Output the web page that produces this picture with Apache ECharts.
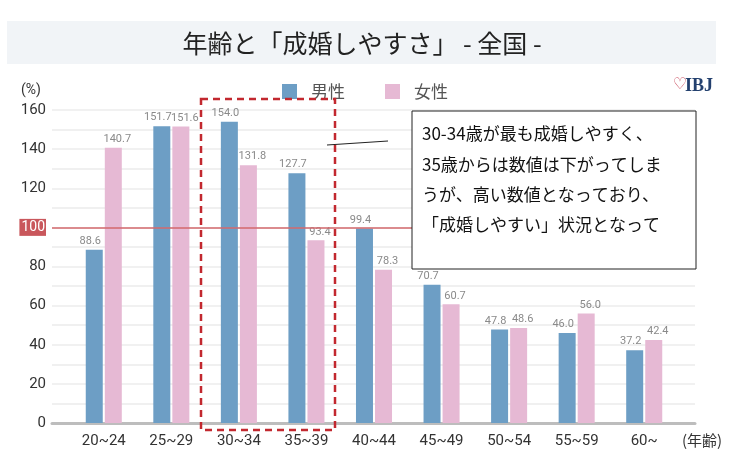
<!DOCTYPE html>
<html><head><meta charset="utf-8">
<script src="https://cdn.jsdelivr.net/npm/echarts@6/dist/echarts.min.js"></script>
<style>html,body{margin:0;padding:0;background:#fff}#c{width:737px;height:462px}</style>
</head><body><div id="c"></div>
<script>
const categories = ['20~24','25~29','30~34','35~39','40~44','45~49','50~54','55~59','60~'];
const male = [88.6,151.7,154.0,127.7,99.4,70.7,47.8,46.0,37.2];
const female = [140.7,151.6,131.8,93.4,78.3,60.7,48.6,56.0,42.4];
const yTicks = [0,20,40,60,80,100,120,140,160];
const noteLines = ['30-34歳が最も成婚しやすく、','35歳からは数値は下がってしま','うが、高い数値となっており、','「成婚しやすい」状況となって'];

const JP = '"Noto Sans CJK JP","Noto Sans",sans-serif';
const NUM = 'Roboto,"Noto Sans",sans-serif';
const chart = echarts.init(document.getElementById('c'));
const lbl = (dx) => ({show:true, position:'top', distance:3, offset:[dx,0], color:'#8a8a8a', fontSize:11, fontFamily:NUM,
  formatter:p=>Number(p.value).toFixed(1)});
chart.setOption({
  animation:false,
  backgroundColor:'#fff',
  grid:[{left:52,right:42,top:110,bottom:39},{left:70,right:59,top:110,bottom:39}],
  legend:{top:78,left:277,itemWidth:15,itemHeight:15,itemGap:40,icon:'rect',
    textStyle:{fontSize:17,color:'#555',fontFamily:JP,padding:[0,0,0,9]},data:['男性','女性']},
  xAxis:[
    {gridIndex:0,type:'category',data:categories,axisLine:{lineStyle:{color:'#bdbdbd',width:3}},axisTick:{show:false},axisLabel:{show:false}},
    {gridIndex:1,type:'category',data:categories,axisLine:{show:false},axisTick:{show:false},
     axisLabel:{color:'#333',fontSize:15,margin:11,fontFamily:NUM}}
  ],
  yAxis:[
    {gridIndex:0,type:'value',min:yTicks[0],max:yTicks[yTicks.length-1],interval:20,
     axisLine:{show:false},axisTick:{show:false},
     splitLine:{lineStyle:{color:'#ececec',width:1.5}},
     minorTick:{show:false,splitNumber:2},minorSplitLine:{show:true,lineStyle:{color:'#ececec',width:1.5}},
     axisLabel:{margin:6,color:'#333',fontSize:15,fontFamily:NUM,
       formatter:v=>v===100?'{r|100}':String(v),
       rich:{r:{backgroundColor:'#c9575c',color:'#fff',fontSize:14,padding:[2,1,1,2],fontFamily:NUM}}}},
    {gridIndex:1,type:'value',min:yTicks[0],max:yTicks[yTicks.length-1],interval:20,show:false,splitLine:{show:false}}
  ],
  series:[
    {type:'line',xAxisIndex:0,yAxisIndex:0,data:categories.map(()=>'-'),silent:true,
     markLine:{symbol:'none',silent:true,label:{show:false},lineStyle:{color:'#d3686c',width:1.5,type:'solid'},data:[{yAxis:100}]}},
    {name:'男性',type:'bar',xAxisIndex:1,yAxisIndex:1,data:male,barWidth:17,barGap:'12%',itemStyle:{color:'#6d9ec5'},label:lbl(-4)},
    {name:'女性',type:'bar',xAxisIndex:1,yAxisIndex:1,data:female,barWidth:17,itemStyle:{color:'#e6b9d4'},label:lbl(4)}
  ],
  graphic:[
    {type:'rect',shape:{x:7,y:21,width:709,height:43},style:{fill:'#f1f4f7'},z:-1},
    {type:'text',x:362,y:43,style:{text:'年齢と「成婚しやすさ」 - 全国 -',font:'25px '+JP,fill:'#222',align:'center',verticalAlign:'middle'}},
    {type:'text',x:31,y:90,style:{text:'(%)',font:'14px '+NUM,fill:'#333',align:'center',verticalAlign:'middle'}},
    {type:'text',x:702,y:440,style:{text:'(年齢)',font:'15px '+JP,fill:'#333',align:'center',verticalAlign:'middle'}},
    {type:'text',x:699,y:86,style:{text:'IBJ',font:'bold 18px "Liberation Serif",serif',fill:'#23406e',align:'center',verticalAlign:'middle'}},
    {type:'text',x:680,y:85,style:{text:'♡',font:'16px "DejaVu Sans",sans-serif',fill:'#c8485a',align:'center',verticalAlign:'middle'}},
    {type:'rect',shape:{x:201,y:99,width:134,height:331},style:{fill:'none',stroke:'#c2282f',lineWidth:2.5,lineDash:[7,5]},z:50},
    {type:'line',shape:{x1:327,y1:145,x2:388,y2:141},style:{stroke:'#222',lineWidth:1},z:50},
    {type:'rect',shape:{x:412,y:111,width:284,height:158},style:{fill:'#fff',stroke:'#222',lineWidth:1},z:60},
    {type:'text',x:422,y:134,z:61,style:{text:noteLines[0],font:'17px '+JP,fill:'#111',verticalAlign:'middle'}},
    {type:'text',x:422,y:165,z:61,style:{text:noteLines[1],font:'17px '+JP,fill:'#111',verticalAlign:'middle'}},
    {type:'text',x:422,y:195,z:61,style:{text:noteLines[2],font:'17px '+JP,fill:'#111',verticalAlign:'middle'}},
    {type:'text',x:422,y:225,z:61,style:{text:noteLines[3],font:'17px '+JP,fill:'#111',verticalAlign:'middle'}}
  ]
});
</script></body></html>
